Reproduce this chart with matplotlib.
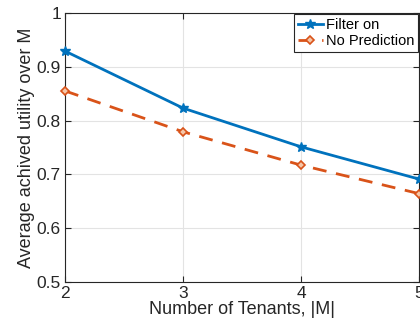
import matplotlib
matplotlib.use("Agg")
import matplotlib.pyplot as plt

plt.rcParams['font.family'] = ['Liberation Sans', 'DejaVu Sans']

tenants = [2, 3, 4, 5]
filter_on = [0.929, 0.823, 0.751, 0.691]
no_prediction = [0.855, 0.779, 0.717, 0.664]

fig = plt.figure(figsize=(4.2, 3.32), dpi=100)
ax = fig.add_axes([0.155, 0.151, 0.843, 0.810])

ax.plot(tenants, filter_on, '-', color='#0072BD', linewidth=2,
        marker='*', markersize=7, label='Filter on', clip_on=False, zorder=3)
ax.plot(tenants, no_prediction, '--', color='#D95319', linewidth=2,
        marker='D', markersize=4, markerfacecolor='#F5C7A9', markeredgewidth=1.2,
        dashes=(5, 3.5), label='No Prediction', clip_on=False, zorder=3)

ax.set_xlim(2, 5)
ax.set_ylim(0.5, 1)
ax.set_xticks(tenants)
ax.set_yticks([0.5, 0.6, 0.7, 0.8, 0.9, 1.0])
ax.set_yticklabels(['0.5', '0.6', '0.7', '0.8', '0.9', '1'])
ax.tick_params(direction='in', top=True, right=True, labelsize=12.5, length=4,
               colors='#262626', pad=3)
ax.grid(True, color='#e3e3e3', linewidth=0.8)
ax.set_axisbelow(True)
for s in ax.spines.values():
    s.set_color('#262626')
    s.set_linewidth(0.8)

ax.set_xlabel('Number of Tenants, |M|', fontsize=13, color='#262626', labelpad=0)
ax.set_ylabel('Average achived utility over M', fontsize=13, color='#262626', labelpad=1)

leg = ax.legend(loc='upper right', fontsize=10.5, fancybox=False, framealpha=1,
                edgecolor='#262626', handlelength=1.7, handletextpad=0.2,
                borderaxespad=0.1, borderpad=0.25, labelspacing=0.15)
leg.get_frame().set_linewidth(0.8)

fig.savefig('out.png', dpi=100)
